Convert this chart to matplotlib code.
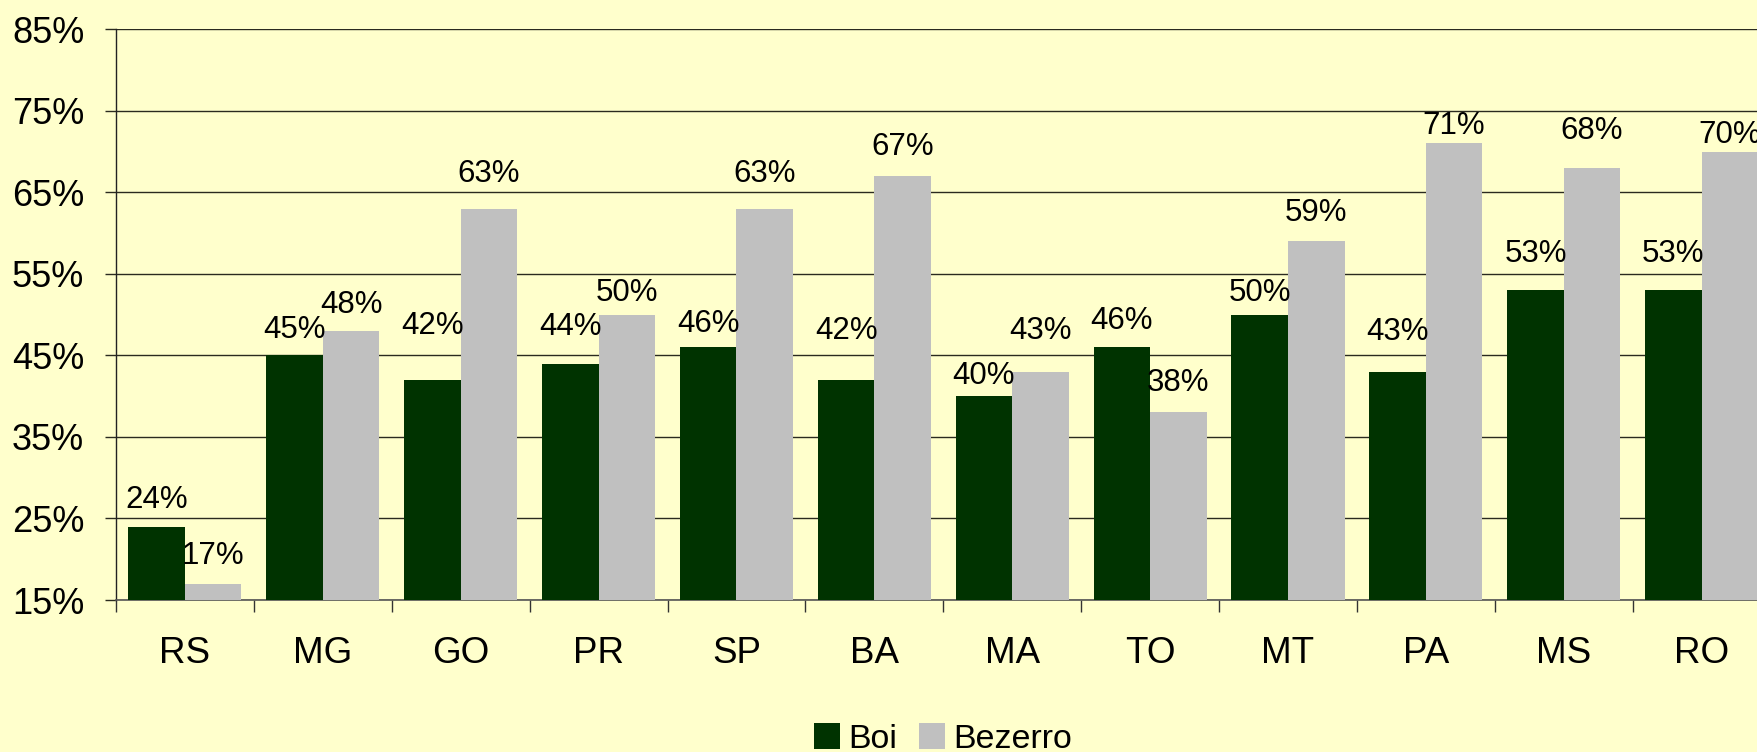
import matplotlib
matplotlib.use("Agg")
import matplotlib.pyplot as plt
import numpy as np

categories = ["RS", "MG", "GO", "PR", "SP", "BA", "MA", "TO", "MT", "PA", "MS", "RO"]
boi = [24, 45, 42, 44, 46, 42, 40, 46, 50, 43, 53, 53]
bezerro = [17, 48, 63, 50, 63, 67, 43, 38, 59, 71, 68, 70]
y_ticks = [15, 25, 35, 45, 55, 65, 75, 85]

# label offsets above bar tops (pixels) - layout only
boi_label_off = [19, 17, 46, 29, 15, 41, 12, 18, 14, 32, 28, 28]
bez_label_off = [20, 18, 27, 14, 27, 21, 33, 21, 20, 9, 29, 9]

BG = "#FFFFCC"
C_BOI = "#003300"
C_BEZ = "#C0C0C0"
GRID = "#2a2a1f"

plt.rcParams["font.family"] = ["Liberation Sans", "DejaVu Sans"]

DPI = 100
fig = plt.figure(figsize=(17.57, 7.52), dpi=DPI, facecolor=BG)
W, H = 1757, 752
left_px, right_px, top_px, bottom_px = 116, 1770.6, 29.3, 600
ax = fig.add_axes([left_px / W, 1 - bottom_px / H, (right_px - left_px) / W, (bottom_px - top_px) / H])
ax.set_facecolor(BG)

x = np.arange(len(categories)) + 0.5
w = 0.41
b1 = ax.bar(x - w / 2, boi, width=w, bottom=0, color=C_BOI, zorder=3, linewidth=0)
b2 = ax.bar(x + w / 2, bezerro, width=w, bottom=0, color=C_BEZ, zorder=3, linewidth=0)

ax.set_xlim(0, len(categories))
ax.set_ylim(15, 85)

ax.set_yticks(y_ticks)
ax.set_yticklabels([f"{t}%" for t in y_ticks], fontsize=26)
ax.yaxis.grid(True, color=GRID, linewidth=1.0, zorder=0)
ax.set_axisbelow(True)
ax.tick_params(axis="y", length=11 * 0.72, width=1.0, color=GRID, pad=15, direction="out")

ax.set_xticks(np.arange(len(categories) + 1))
ax.set_xticklabels([])
ax.set_xticks(x, minor=True)
ax.set_xticklabels(categories, minor=True, fontsize=26.5)
ax.tick_params(axis="x", which="major", length=12 * 0.72, width=1.0, color="#333333", direction="out")
ax.tick_params(axis="x", which="minor", length=0, pad=26)

for s in ["top", "right"]:
    ax.spines[s].set_visible(False)
ax.spines["left"].set_color("#222222")
ax.spines["left"].set_linewidth(1.0)
ax.spines["bottom"].set_color("#555555")
ax.spines["bottom"].set_linewidth(1.2)

for xi, v, off in zip(x - w / 2, boi, boi_label_off):
    ax.annotate(f"{v}%", xy=(xi, v), xytext=(0, off * 0.72), textcoords="offset points",
                ha="center", va="baseline", fontsize=22.5, color="black", zorder=5,
                annotation_clip=False)
for xi, v, off in zip(x + w / 2, bezerro, bez_label_off):
    ax.annotate(f"{v}%", xy=(xi, v), xytext=(0, off * 0.72), textcoords="offset points",
                ha="center", va="baseline", fontsize=22.5, color="black", zorder=5,
                annotation_clip=False)

leg = fig.legend([b1, b2], ["Boi", "Bezerro"], loc="center", bbox_to_anchor=(943 / W, 1 - 739 / H),
                 ncol=2, frameon=False, fontsize=24.5, handlelength=0.765, handleheight=0.765,
                 handletextpad=0.25, columnspacing=0.62, borderpad=0, borderaxespad=0)

fig.savefig("out.png", dpi=DPI, facecolor=BG)
